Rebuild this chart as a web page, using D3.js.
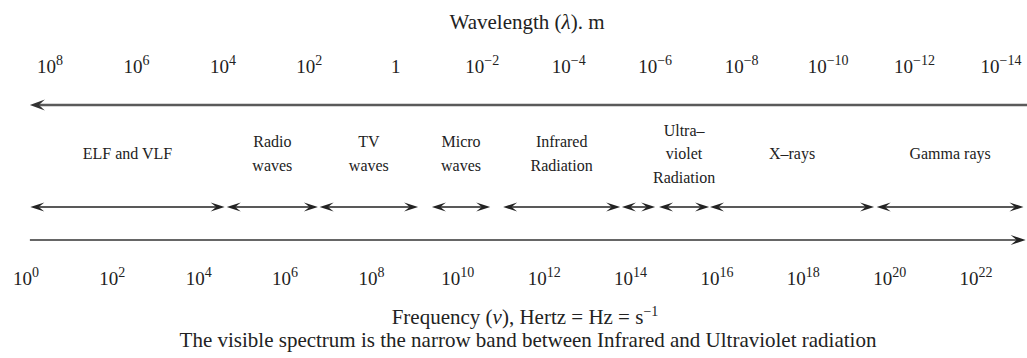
<!DOCTYPE html>
<html>
<head>
<meta charset="utf-8">
<script src="https://cdn.jsdelivr.net/npm/d3@7"></script>
<style>
  html, body { margin: 0; padding: 0; background: #fff; }
</style>
</head>
<body>
<div id="main"></div>
<script>
///////////
// DATA  //
///////////

// exponents of the tick labels (10^n)
const wavelengthExps = [8, 6, 4, 2, 0, -2, -4, -6, -8, -10, -12, -14]
const frequencyExps = [0, 2, 4, 6, 8, 10, 12, 14, 16, 18, 20, 22]

// bands, start/end as log10 of frequency (Hz)
const bandLabels = [
  ["ELF and VLF"],
  ["Radio", "waves"],
  ["TV", "waves"],
  ["Micro", "waves"],
  ["Infrared", "Radiation"],
  [],                                   // visible, unlabeled
  ["Ultra–", "violet", "Radiation"],
  ["X–rays"],
  ["Gamma rays"]
]
const bandStart = [0.1, 4.65, 6.8, 9.4, 11.05, 13.8, 14.66, 15.84, 19.7]
const bandEnd   = [4.6, 6.76, 9.08, 10.75, 13.76, 14.57, 15.82, 19.64, 23.1]

// full extent of the two long arrows (log10 Hz)
const axisExtent = [0.09, 23.15]

///////////
// SETUP //
///////////
const width = 1027
const height = 358
const serif = "Liberation Serif"
const ink = "#222"

const xFreq = d3.scaleLinear().domain([0, 22]).range([26, 976])
const xWave = d3.scaleLinear().domain([8, -14]).range([50, 1001])

const svg = d3.select("#main").append("svg")
  .attr("width", width)
  .attr("height", height)

// stealth style arrowhead, tip at (x, y), dir = 1 points right, -1 left
function head(x, y, dir, L = 14, W = 10) {
  const b = x - dir * L
  const n = x - dir * L * 0.6
  return `M${x},${y}L${b},${y - W / 2}L${n},${y}L${b},${y + W / 2}Z`
}

function addText(x, y, size) {
  return svg.append("text")
    .attr("x", x).attr("y", y)
    .attr("text-anchor", "middle")
    .attr("font-family", serif)
    .attr("font-size", size)
    .attr("fill", ink)
}

function supLabel(sel, base, sup, supSize) {
  sel.append("tspan").text(base)
  sel.append("tspan").attr("dy", -8).attr("font-size", supSize).text(sup)
}

function fmtExp(e) {
  return e < 0 ? "−" + Math.abs(e) : String(e)
}

//////////
// DRAW //
//////////

// title
const title = addText(527, 29, 21)
title.append("tspan").text("Wavelength (")
title.append("tspan").attr("font-style", "italic").text("λ")
title.append("tspan").text("). m")

// wavelength ticks
wavelengthExps.forEach(d => {
  const t = addText(xWave(d), 73, 19)
  if (d === 0) t.text("1")
  else supLabel(t, "10", fmtExp(d), 14)
})

// top (wavelength) arrow, pointing left
const yTop = 105
svg.append("line")
  .attr("x1", xFreq(axisExtent[0]) + 8).attr("x2", width)
  .attr("y1", yTop).attr("y2", yTop)
  .attr("stroke", "#5a5a5a").attr("stroke-width", 2.5)
svg.append("path")
  .attr("d", head(xFreq(axisExtent[0]), yTop, -1, 15, 11))
  .attr("fill", "#333")

// band labels
const yMid = 159
const lineGap = 23.5
bandLabels.forEach((lines, i) => {
  const cx = (xFreq(bandStart[i]) + xFreq(bandEnd[i])) / 2
  const y0 = yMid - (lines.length - 1) * lineGap / 2
  lines.forEach((t, j) => {
    addText(cx, y0 + j * lineGap, 16).text(t)
  })
})

// band double arrows
const yBand = 207
const bands = svg.selectAll("g.band")
  .data(d3.range(bandStart.length))
  .enter().append("g").attr("class", "band")
bands.append("line")
  .attr("x1", i => xFreq(bandStart[i]) + 8)
  .attr("x2", i => xFreq(bandEnd[i]) - 8)
  .attr("y1", yBand).attr("y2", yBand)
  .attr("stroke", ink).attr("stroke-width", 1.5)
bands.append("path")
  .attr("d", i => head(xFreq(bandStart[i]), yBand, -1, 14, 9))
  .attr("fill", ink)
bands.append("path")
  .attr("d", i => head(xFreq(bandEnd[i]), yBand, 1, 14, 9))
  .attr("fill", ink)

// bottom (frequency) arrow, pointing right
const yBot = 240
svg.append("line")
  .attr("x1", xFreq(axisExtent[0])).attr("x2", xFreq(axisExtent[1]) - 8)
  .attr("y1", yBot).attr("y2", yBot)
  .attr("stroke", "#333").attr("stroke-width", 1.5)
svg.append("path")
  .attr("d", head(xFreq(axisExtent[1]), yBot, 1, 15, 10))
  .attr("fill", ink)

// frequency ticks
frequencyExps.forEach(d => {
  supLabel(addText(xFreq(d), 285, 19), "10", fmtExp(d), 14)
})

// frequency title and caption
const ft = addText(525, 324, 21)
ft.append("tspan").text("Frequency (")
ft.append("tspan").attr("font-style", "italic").text("ν")
ft.append("tspan").text("), Hertz = Hz = s")
ft.append("tspan").attr("dy", -8).attr("font-size", 14).text("−1")

addText(528, 347, 21)
  .text("The visible spectrum is the narrow band between Infrared and Ultraviolet radiation")
</script>
</body>
</html>
